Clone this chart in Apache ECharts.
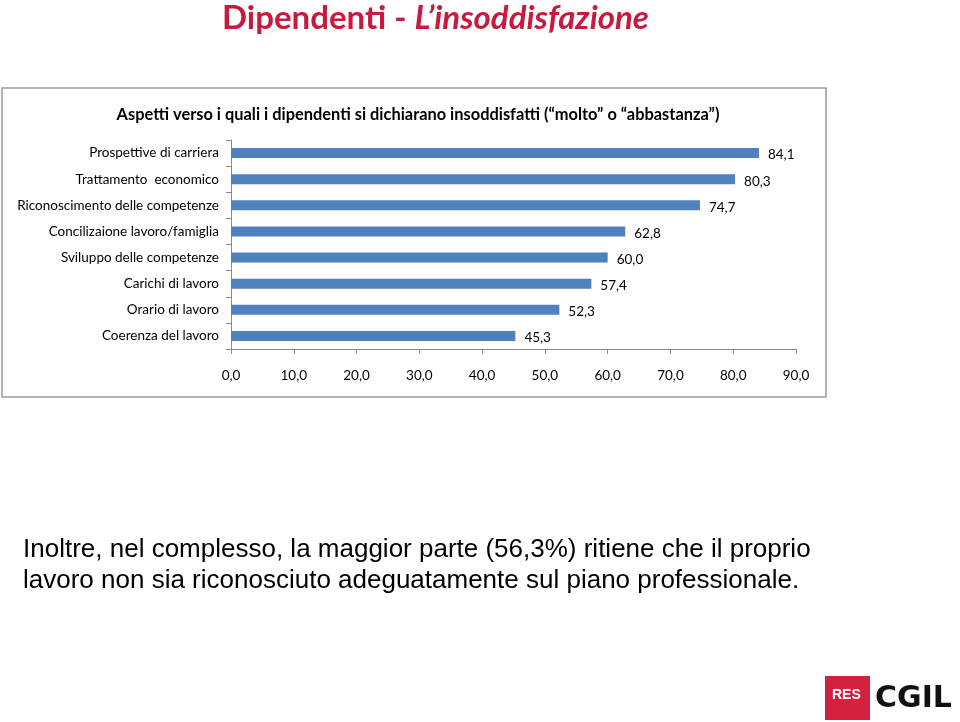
<!DOCTYPE html>
<html>
<head>
<meta charset="utf-8">
<script src="https://cdn.jsdelivr.net/npm/echarts@6/dist/echarts.min.js"></script>
<style>html,body{margin:0;padding:0;background:#fff}#c{width:960px;height:722px}</style>
</head>
<body>
<div id="c"></div>
<script>
const categories = [
  "Prospettive di carriera",
  "Trattamento  economico",
  "Riconoscimento delle competenze",
  "Concilizaione lavoro/famiglia",
  "Sviluppo delle competenze",
  "Carichi di lavoro",
  "Orario di lavoro",
  "Coerenza del lavoro"
];
const values = [84.1, 80.3, 74.7, 62.8, 60.0, 57.4, 52.3, 45.3];
const xTicks = [0, 10, 20, 30, 40, 50, 60, 70, 80, 90];

const fmt = v => Number(v).toFixed(1).replace('.', ',');
const chart = echarts.init(document.getElementById('c'));
const lab = "Lato, 'Noto Sans', sans-serif";
chart.setOption({
  animation: false,
  backgroundColor: '#fff',
  title: [{
    text: '{a|Dipendenti - }{b|L’insoddisfazione}',
    left: 217, top: -3,
    textStyle: {
      rich: {
        a: { fontFamily: lab, fontWeight: 'bold', fontSize: 33, color: '#C8193F' },
        b: { fontFamily: lab, fontWeight: 'bold', fontStyle: 'italic', fontSize: 33, color: '#C8193F' }
      }
    }
  }, {
    text: 'Aspetti verso i quali i dipendenti si dichiarano insoddisfatti (“molto” o “abbastanza”)',
    left: 413, top: 102, textAlign: 'center',
    textStyle: { fontFamily: lab, fontWeight: 'bold', fontSize: 16.4, color: '#000' }
  }],
  graphic: [
    { type: 'rect', z: -1, shape: { x: 2, y: 88, width: 824, height: 309 },
      style: { fill: '#fff', stroke: '#9a9a9a', lineWidth: 1.5 } },
    { type: 'text', left: 23, top: 534,
      style: { text: 'Inoltre, nel complesso, la maggior parte (56,3%) ritiene che il proprio\nlavoro non sia riconosciuto adeguatamente sul piano professionale.',
        font: "26px 'Liberation Sans', Arial, sans-serif", fill: '#000', lineHeight: 31 } },
    { type: 'rect', shape: { x: 825, y: 676, width: 45, height: 44 }, style: { fill: '#D4213D' } },
    { type: 'text', left: 832, top: 688,
      style: { text: 'RES', font: "bold 14px 'Liberation Sans', Arial, sans-serif", fill: '#fff' } },
    { type: 'text', left: 875, top: 684,
      style: { text: 'CGIL', font: "900 30px 'DejaVu Sans', Arial, sans-serif", fill: '#111' } }
  ],
  grid: { left: 231, right: 164, top: 140, bottom: 373, containLabel: false },
  xAxis: {
    type: 'value', min: 0, max: 90, interval: 10,
    splitLine: { show: false },
    axisLine: { show: true, lineStyle: { color: '#8a8a8a' } },
    axisTick: { show: true, length: 5, lineStyle: { color: '#8a8a8a' } },
    axisLabel: { margin: 20, fontFamily: lab, fontSize: 13.5, color: '#000',
      formatter: v => xTicks.includes(v) ? fmt(v) : '' }
  },
  yAxis: {
    type: 'category', data: categories, inverse: true,
    axisLine: { show: true, lineStyle: { color: '#8a8a8a' } },
    axisTick: { show: true, length: 5, lineStyle: { color: '#8a8a8a' } },
    axisLabel: { margin: 12, fontFamily: lab, fontSize: 13.5, color: '#000' }
  },
  series: [{
    type: 'bar', data: values, barCategoryGap: '62%',
    itemStyle: { color: '#4F81BD' },
    label: { show: true, position: 'right', distance: 9, offset: [0, 2],
      fontFamily: lab, fontSize: 13.5, color: '#000', formatter: p => fmt(p.value) }
  }]
});
</script>
</body>
</html>
